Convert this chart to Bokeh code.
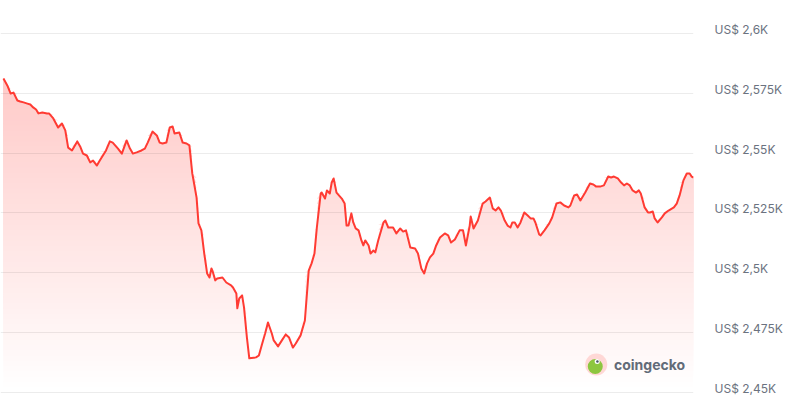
import numpy as np
from bokeh.plotting import figure
from bokeh.models import Range1d, LinearAxis, FixedTicker, Label, Grid
from bokeh.embed import file_html
from bokeh.resources import INLINE

# minutes since start of the 24h window
minutes = [
    0, 8, 15, 21, 29, 35, 42, 50, 56, 62,
    68, 73, 81, 91, 95, 104, 114, 122, 129, 135,
    143, 154, 160, 166, 174, 181, 187, 195, 201, 214,
    222, 228, 239, 247, 257, 264, 270, 278, 288, 295,
    301, 311, 320, 326, 332, 340, 347, 353, 357, 367,
    374, 382, 388, 394, 403, 407, 413, 419, 425, 430,
    434, 436, 442, 446, 457, 465, 475, 479, 486, 488,
    492, 498, 502, 508, 513, 527, 533, 540, 546, 552,
    560, 564, 573, 581, 589, 596, 604, 610, 620, 629,
    637, 643, 649, 654, 662, 664, 671, 675, 681, 685,
    689, 695, 706, 712, 716, 720, 726, 730, 735, 741,
    747, 751, 755, 762, 766, 772, 776, 782, 793, 797,
    803, 813, 820, 828, 834, 840, 849, 859, 865, 872,
    878, 884, 890, 897, 903, 911, 921, 928, 934, 942,
    952, 959, 965, 973, 975, 981, 990, 1000, 1006, 1015,
    1021, 1027, 1033, 1038, 1046, 1052, 1058, 1062, 1067, 1073,
    1079, 1087, 1094, 1100, 1106, 1110, 1118, 1121, 1129, 1139,
    1145, 1154, 1162, 1170, 1179, 1183, 1191, 1197, 1204, 1214,
    1224, 1231, 1237, 1245, 1253, 1262, 1268, 1274, 1282, 1289,
    1295, 1301, 1307, 1313, 1320, 1326, 1330, 1338, 1345, 1349,
    1355, 1359, 1365, 1374, 1380, 1388, 1399, 1405, 1411, 1419,
    1426, 1432, 1436, 1440,
]

# price in USD
prices = [
    2581.2, 2578.3, 2574.9, 2575.3, 2572.0, 2571.6, 2571.2, 2570.7, 2570.3, 2569.1,
    2568.2, 2566.6, 2567.0, 2566.6, 2566.6, 2564.5, 2560.7, 2562.4, 2559.5, 2552.3,
    2551.1, 2554.9, 2552.8, 2549.8, 2549.0, 2546.1, 2546.9, 2544.8, 2546.9, 2551.1,
    2554.9, 2554.4, 2551.9, 2549.8, 2555.3, 2551.9, 2549.8, 2550.3, 2551.1, 2551.9,
    2554.4, 2559.0, 2557.4, 2554.4, 2554.0, 2554.4, 2560.7, 2561.1, 2558.2, 2558.6,
    2554.4, 2554.0, 2553.2, 2541.5, 2531.4, 2520.6, 2517.7, 2508.0, 2499.7, 2498.0,
    2501.8, 2500.9, 2496.8, 2497.6, 2498.0, 2495.9, 2494.7, 2493.8, 2491.3, 2485.1,
    2489.2, 2490.5, 2485.5, 2472.9, 2464.2, 2464.6, 2465.4, 2470.4, 2474.6, 2479.2,
    2474.6, 2471.7, 2469.2, 2471.7, 2474.2, 2472.9, 2468.7, 2470.4, 2473.8, 2480.0,
    2500.9, 2503.9, 2508.0, 2518.9, 2533.1, 2533.5, 2531.0, 2534.4, 2533.1, 2537.7,
    2539.4, 2533.5, 2531.0, 2528.9, 2519.7, 2519.7, 2524.8, 2521.0, 2518.5, 2517.7,
    2513.5, 2511.4, 2513.5, 2511.4, 2508.0, 2509.3, 2508.5, 2513.5, 2521.0, 2521.8,
    2518.9, 2518.9, 2516.4, 2518.5, 2517.2, 2517.7, 2510.5, 2510.1, 2508.0, 2501.8,
    2499.7, 2503.9, 2506.4, 2508.0, 2511.4, 2514.7, 2516.4, 2515.6, 2512.6, 2513.9,
    2517.7, 2517.7, 2511.4, 2519.7, 2523.5, 2518.5, 2521.8, 2528.9, 2529.8, 2531.4,
    2526.9, 2526.0, 2527.3, 2526.0, 2521.8, 2519.7, 2518.9, 2521.0, 2521.0, 2518.9,
    2521.0, 2525.2, 2523.9, 2522.7, 2522.7, 2521.0, 2516.0, 2515.6, 2517.7, 2520.6,
    2523.1, 2528.9, 2529.4, 2528.1, 2527.3, 2528.1, 2532.3, 2532.7, 2530.2, 2533.5,
    2537.3, 2536.9, 2536.0, 2536.0, 2536.5, 2540.2, 2539.8, 2540.2, 2539.4, 2537.7,
    2536.5, 2537.3, 2536.5, 2534.4, 2533.5, 2534.4, 2533.1, 2527.3, 2525.2, 2525.2,
    2525.6, 2522.7, 2521.0, 2523.1, 2524.8, 2526.0, 2527.3, 2528.9, 2532.3, 2538.6,
    2541.5, 2541.5, 2540.2, 2539.8,
]

tick_values = [2450, 2475, 2500, 2525, 2550, 2575, 2600]
tick_labels = ["US$ 2,45K", "US$ 2,475K", "US$ 2,5K", "US$ 2,525K",
               "US$ 2,55K", "US$ 2,575K", "US$ 2,6K"]

assert len(minutes) == len(prices)
x = np.array(minutes, dtype=float)
y = np.array(prices, dtype=float)

LINE = "#ff3b33"
RED_RGB = (255, 58, 51)

p = figure(width=785, height=403, output_backend="svg", toolbar_location=None,
           x_axis_location=None, y_axis_location=None,
           x_range=Range1d(-6.2, 1440), y_range=Range1d(2445.32, 2613.80),
           min_border=0, min_border_right=88, outline_line_color=None,
           background_fill_color="white", border_fill_color="white")

# no default grids
for r in list(p.center):
    if isinstance(r, Grid):
        r.visible = False

# label axis slightly shifted so labels sit just above the gridlines
p.extra_y_ranges = {"lab": Range1d(2443.65, 2612.13)}
ax = LinearAxis(y_range_name="lab", ticker=FixedTicker(ticks=tick_values),
                major_label_overrides=dict(zip(tick_values, tick_labels)),
                axis_line_color=None, major_tick_line_color=None,
                minor_tick_line_color=None, major_label_standoff=15,
                major_label_text_font="Inter", major_label_text_font_size="12px",
                major_label_text_color="#6b7280")
p.add_layout(ax, "right")

# gradient area fill (opaque bands, each covering from its level up to the line)
base = tick_values[0]
top = float(y.max())
N = 60
levels = np.linspace(base, top, N + 1)
for k in range(N):
    lvl = levels[k]
    mid = (levels[k] + levels[k + 1]) / 2
    a = 0.27 * (mid - base) / (top - base)
    col = "#%02x%02x%02x" % tuple(int(round(255 - a * (255 - c))) for c in RED_RGB)
    p.varea(x=x, y1=np.full_like(y, lvl), y2=np.maximum(y, lvl),
            fill_color=col, fill_alpha=1.0)

# gridlines over the fill, faint
p.hspan(y=tick_values, line_color="black", line_alpha=0.075, line_width=1)

# price line
p.line(x, y, line_color=LINE, line_width=2, line_join="round")

# coingecko watermark
p.scatter(x=[1237], y=[2461.6], size=22, fill_color="#ffd8d6", line_color=None)
p.scatter(x=[1235], y=[2460.8], size=15, fill_color="#8dc63f", line_color=None)
p.scatter(x=[1239], y=[2462.9], size=5, fill_color="white", line_color=None)
p.scatter(x=[1239.5], y=[2462.9], size=2.5, fill_color="#4a5568", line_color=None)
p.add_layout(Label(x=1274, y=2461.6, text="coingecko", text_font="Inter",
                   text_font_size="14px", text_font_style="bold",
                   text_color="#626b78", text_baseline="middle"))

open("out.html", "w").write(file_html(p, INLINE))
